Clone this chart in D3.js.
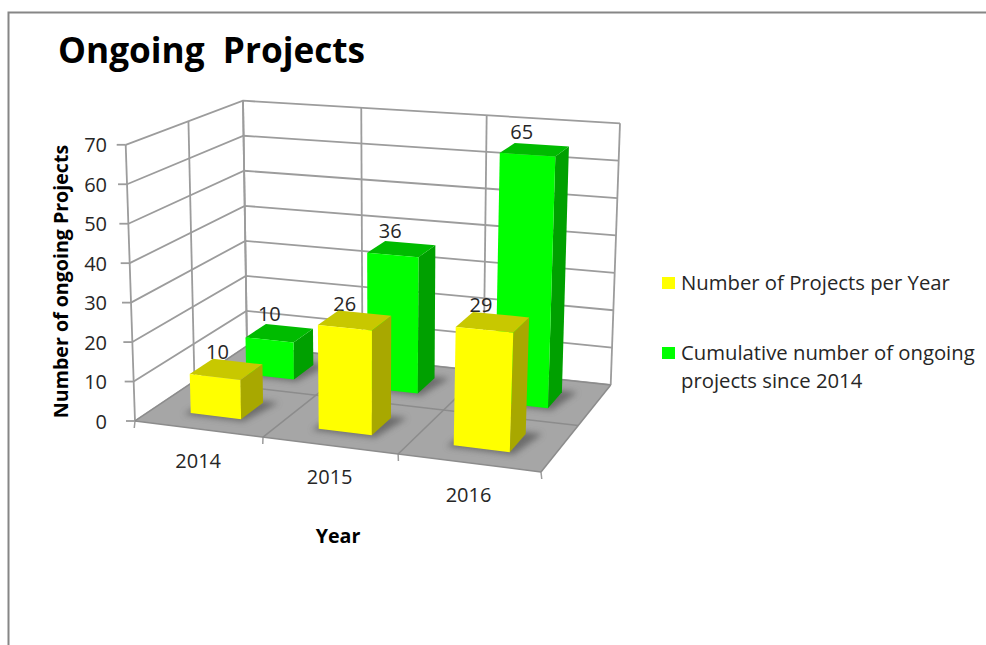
<!DOCTYPE html>
<html><head><meta charset="utf-8">
<script src="https://cdn.jsdelivr.net/npm/d3@7/dist/d3.min.js"></script>
<style>html,body{margin:0;padding:0;background:#fff}svg{display:block}text{font-family:"Open Sans",sans-serif;fill:#262626}</style>
</head><body><svg id="c" width="986" height="645"></svg>
<script>
const title = "Ongoing  Projects";
const years = ["2014","2015","2016"];
const seriesNames = ["Number of Projects per Year","Cumulative number of ongoing projects since 2014"];
const perYear = [10,26,29];
const cumulative = [10,36,65];
const yTicks = [0,10,20,30,40,50,60,70];
const yTitle = "Number of ongoing Projects";
const xTitle = "Year";
const palette = {
  yellow:{front:"#ffff00",top:"#c8c800",side:"#a8a800"},
  green:{front:"#00ff00",top:"#00bb00",side:"#00a000"}
};
const floorQuad = [[135,421],[541,472],[610.7,385],[247,346]];
const roofQuad = [[125.7,144.8],[552.5,176],[620,123.3],[243,100.7]];

function homography(q){
  const [[x0,y0],[x1,y1],[x2,y2],[x3,y3]] = q;
  const dx1=x1-x2,dx2=x3-x2,sx=x0-x1+x2-x3,dy1=y1-y2,dy2=y3-y2,sy=y0-y1+y2-y3;
  const det=dx1*dy2-dx2*dy1;
  const g=(sx*dy2-dx2*sy)/det,h=(dx1*sy-sx*dy1)/det;
  const a=x1-x0+g*x1,b=x3-x0+h*x3,c=x0,d=y1-y0+g*y1,e=y3-y0+h*y3,f=y0;
  return (u,v)=>{const w=g*u+h*v+1;return [(a*u+b*v+c)/w,(d*u+e*v+f)/w];};
}
const floorH=homography(floorQuad), roofH=homography(roofQuad);
const yScale=d3.scaleLinear().domain([0,70]).range([0,1]);
const xScale=d3.scaleBand().domain(years).range([0,1]).paddingInner(.6).paddingOuter(.3);
const zScale=d3.scaleBand().domain([0,1]).range([0,1]).paddingInner(.6).paddingOuter(.3);
function P(u,w,v){const a=floorH(u,v),b=roofH(u,v);return [a[0]+(b[0]-a[0])*w,a[1]+(b[1]-a[1])*w];}

const svg=d3.select("#c");
const path=d3.line();
const closed=pts=>path(pts)+"Z";
const defs=svg.append("defs");
defs.append("filter").attr("id","blur").attr("x","-30%").attr("y","-30%").attr("width","160%").attr("height","160%")
  .append("feGaussianBlur").attr("stdDeviation",3);

// frame
svg.append("path").attr("d","M8.5,645V12.5H986").attr("fill","none").attr("stroke","#868686").attr("stroke-width",2);

const grid=svg.append("g").attr("fill","none").attr("stroke","#9c9c9c").attr("stroke-width",1.8);
// floor
svg.append("path").attr("d",closed(floorQuad)).attr("fill","#a6a6a6");
// walls grid
yTicks.forEach(t=>{
  const w=yScale(t);
  grid.append("path").attr("d",path([P(0,w,0),P(0,w,1),P(1,w,1)]));
  const a=P(0,w,0);
  grid.append("path").attr("d",path([[a[0]-9,a[1]],a]));
});
[0,1/3,2/3,1].forEach(u=>{
  grid.append("path").attr("d",path([P(u,0,1),P(u,1,1)]));
});
[0,.5,1].forEach(v=>grid.append("path").attr("d",path([P(0,0,v),P(0,1,v)])));
// floor grid
const fg=svg.append("g").attr("fill","none").attr("stroke","#8c8c8c").attr("stroke-width",1.5);
[0,1/3,2/3,1].forEach(u=>{
  fg.append("path").attr("d",path([P(u,0,0),P(u,0,1)]));
  const a=P(u,0,0);
  fg.append("path").attr("d",path([a,[a[0]+(u-.5)*1.5,a[1]+7]])).attr("stroke","#9c9c9c");
});
[0,.5,1].forEach(v=>fg.append("path").attr("d",path([P(0,0,v),P(1,0,v)])));

const labelDy=[2.5,5.5];
function drawBar(g,yr,s,val,col){
  const u0=xScale(yr),u1=u0+xScale.bandwidth(),v0=zScale(s),v1=v0+zScale.bandwidth(),w=yScale(val);
  const dU=.012,dV=.02;
  g.append("path").attr("d",closed([P(u0-dU,0,v0-dV),P(u1+dU,0,v0-dV),P(u1+dU*3,0,v1+dV),P(u0,0,v1+dV)]))
    .attr("fill","#5a5a5a").attr("opacity",.75).attr("filter","url(#blur)");
  g.append("path").attr("d",closed([P(u1,0,v0),P(u1,0,v1),P(u1,w,v1),P(u1,w,v0)])).attr("fill",col.side);
  g.append("path").attr("d",closed([P(u0,w,v0),P(u1,w,v0),P(u1,w,v1),P(u0,w,v1)])).attr("fill",col.top);
  g.append("path").attr("d",closed([P(u0,0,v0),P(u1,0,v0),P(u1,w,v0),P(u0,w,v0)])).attr("fill",col.front);
}
function drawLabel(g,yr,s,val){
  const u=xScale(yr)+xScale.bandwidth()/2,v=zScale(s)+zScale.bandwidth();
  const p=P(u,yScale(val),v);
  g.append("text").attr("x",p[0]-20).attr("y",p[1]-labelDy[s]).attr("text-anchor","middle").attr("font-size",20).text(val);
}
const gG=svg.append("g");
years.forEach((y,i)=>drawBar(gG,y,1,cumulative[i],palette.green));
years.forEach((y,i)=>drawLabel(gG,y,1,cumulative[i]));
const gY=svg.append("g");
years.forEach((y,i)=>drawLabel(gY,y,0,perYear[i]));
years.forEach((y,i)=>drawBar(gY,y,0,perYear[i],palette.yellow));

// axis labels
yTicks.forEach(t=>{
  const a=P(0,yScale(t),0);
  svg.append("text").attr("x",107).attr("y",a[1]+7.5).attr("text-anchor","end").attr("font-size",20).text(t);
});
years.forEach(y=>{
  const a=P(xScale(y)+xScale.bandwidth()/2,0,0);
  svg.append("text").attr("x",a[0]).attr("y",a[1]+39).attr("text-anchor","middle").attr("font-size",20).text(y);
});
svg.append("text").attr("x",58).attr("y",62.5).attr("font-size",35.2).attr("font-weight",700).style("fill","#000").style("white-space","pre").text(title);
svg.append("text").attr("transform","translate(68,281.5) rotate(-90)").attr("text-anchor","middle").attr("font-size",19.6).attr("font-weight",700).style("fill","#000").text(yTitle);
svg.append("text").attr("x",338).attr("y",543).attr("text-anchor","middle").attr("font-size",19.7).attr("font-weight",700).style("fill","#000").text(xTitle);

// legend
const lg=svg.append("g");
lg.append("rect").attr("x",662).attr("y",277).attr("width",13).attr("height",12).attr("fill",palette.yellow.front);
lg.append("text").attr("x",681).attr("y",290).attr("font-size",20.3).text(seriesNames[0]);
lg.append("rect").attr("x",662).attr("y",347).attr("width",13).attr("height",12).attr("fill",palette.green.front);
const parts=["Cumulative number of ongoing","projects since 2014"];
lg.append("text").attr("x",681).attr("y",360).attr("font-size",20.3).text(parts[0]);
lg.append("text").attr("x",681).attr("y",388).attr("font-size",20.3).text(parts[1]);
</script></body></html>
